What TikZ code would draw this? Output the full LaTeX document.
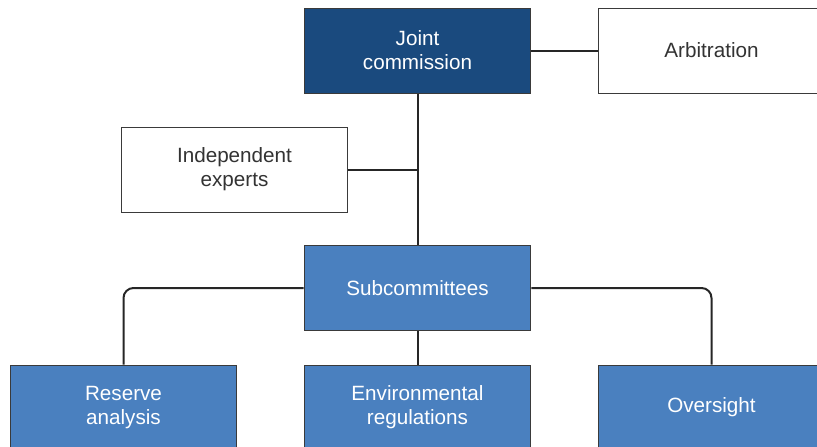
\documentclass[tikz,border=0pt]{standalone}
\usepackage{fontspec}
\setmainfont{Liberation Sans}
\usepackage{tikz}
\definecolor{navy}{HTML}{1A4A7E}
\definecolor{midblue}{HTML}{4A80BF}
\definecolor{edge}{HTML}{3A3A3A}
\definecolor{ink}{HTML}{333333}
\tikzset{
    box/.style={draw=edge, line width=0.75pt, minimum width=170pt, minimum height=63.75pt,
        align=center, font=\fontsize{15.5}{18}\selectfont},
    headbox/.style={box, fill=navy, text=white},
    subbox/.style={box, fill=midblue, text=white},
    plainbox/.style={box, fill=white, text=ink},
    link/.style={draw=black!85, line width=1.5pt},
}

\begin{document}
\begin{tikzpicture}[x=0.75pt, y=-0.75pt]
\useasboundingbox (0,0) rectangle (817,446);
\clip (0,0) rectangle (817,446);

\node[headbox] (joint) at (417.5,50.5) {Joint\\commission};
\node[plainbox] (arb) at (711.5,50.5) {Arbitration};
\node[plainbox] (experts) at (234.5,169.5) {Independent\\experts};
\node[subbox] (sub) at (417.5,288) {Subcommittees};
\node[subbox] (reserve) at (123.5,407.5) {Reserve\\analysis};
\node[subbox] (env) at (417.5,407.5) {Environmental\\regulations};
\node[subbox] (over) at (711.5,407.5) {Oversight};

\coordinate (tap) at (experts -| joint);
\draw[link] (joint) -- (sub);
\draw[link] (joint) -- (arb);
\draw[link] (experts) -- (tap);
\draw[link] (sub) -- (env);
\draw[link, rounded corners=7.5pt] (sub) -| (reserve);
\draw[link, rounded corners=7.5pt] (sub) -| (over);
\end{tikzpicture}
\end{document}
